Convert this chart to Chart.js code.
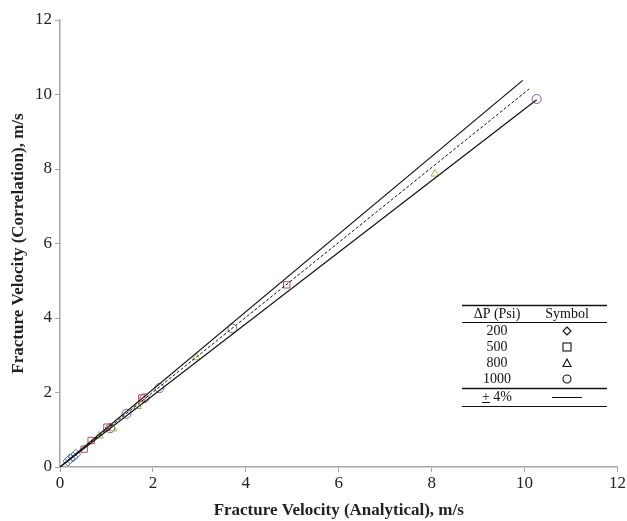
<!DOCTYPE html>
<html>
<head>
<meta charset="utf-8">
<script src="https://cdn.jsdelivr.net/npm/chart.js@4/dist/chart.umd.min.js"></script>
<style>
  body { margin: 0; background: #fff; }
  #wrap { width: 627px; height: 521px; position: relative; }
</style>
</head>
<body>
<div id="wrap"><canvas id="myChart" width="627" height="521"></canvas></div>
<script>
// measured fracture velocities, analytical (x) vs correlation (y), m/s
const dp200X = [0.17, 0.22, 0.28, 0.34];
const dp200Y = [0.16, 0.22, 0.27, 0.34];
const dp500X = [0.52, 0.67, 1.01, 1.76, 4.88];
const dp500Y = [0.48, 0.71, 1.07, 1.85, 4.89];
const dp800X = [0.85, 1.14, 1.67, 2.93, 8.07];
const dp800Y = [0.84, 1.03, 1.63, 2.94, 7.87];
const dp1000X = [1.08, 1.43, 1.82, 2.14, 3.71, 10.26];
const dp1000Y = [1.04, 1.43, 1.85, 2.12, 3.72, 9.88];

// reference lines: perfect fit and the +/-4% band
const fitX = [0, 10.1];
const fitY = [0, 10.15];
const upperX = [0, 9.96];
const upperY = [0, 10.38];
const lowerX = [0, 10.26];
const lowerY = [0, 9.86];

const axisTicks = [0, 2, 4, 6, 8, 10, 12];
const legendRows = ["200", "500", "800", "1000"];

function pts(xs, ys) {
  return xs.map((x, i) => ({ x: x, y: ys[i] }));
}

function markerSet(label, xs, ys, style, color) {
  return {
    type: "scatter",
    label: label,
    data: pts(xs, ys),
    pointStyle: style,
    pointRadius: style === "rectRot" ? 5 : 4.5,
    pointBorderColor: color,
    pointBackgroundColor: "rgba(0,0,0,0)",
    pointBorderWidth: 1,
    showLine: false,
  };
}

function lineSet(label, xs, ys, dash) {
  return {
    type: "line",
    label: label,
    data: pts(xs, ys),
    borderColor: "#111",
    borderWidth: dash ? 1 : 1.2,
    borderDash: dash ? [3, 2] : [],
    pointRadius: 0,
    fill: false,
  };
}

// little table in the lower right that explains the symbols
const tableLegend = {
  id: "tableLegend",
  afterDraw(chart) {
    const ctx = chart.ctx;
    const left = 462, right = 607;
    const c1 = 497, c2 = 567;
    ctx.save();
    ctx.strokeStyle = "#111";
    ctx.fillStyle = "#111";
    const hline = (y, w) => {
      ctx.lineWidth = w;
      ctx.beginPath();
      ctx.moveTo(left, y);
      ctx.lineTo(right, y);
      ctx.stroke();
    };
    hline(305.5, 1.4);
    hline(322.5, 1);
    hline(388.5, 1.4);
    hline(406.5, 1);

    ctx.font = "14px 'Liberation Serif', 'Times New Roman', serif";
    ctx.textAlign = "center";
    ctx.textBaseline = "middle";
    ctx.fillText("ΔP (Psi)", c1, 314);
    ctx.fillText("Symbol", c2, 314);

    const rowY = [331, 347, 363, 379];
    legendRows.forEach((t, i) => ctx.fillText(t, c1, rowY[i]));

    // symbols, drawn in black outline
    ctx.lineWidth = 1.1;
    let y = rowY[0];
    ctx.beginPath();
    ctx.moveTo(c2, y - 4); ctx.lineTo(c2 + 4, y); ctx.lineTo(c2, y + 4); ctx.lineTo(c2 - 4, y); ctx.closePath();
    ctx.stroke();
    y = rowY[1];
    ctx.strokeRect(c2 - 4, y - 4, 8, 8);
    y = rowY[2];
    ctx.beginPath();
    ctx.moveTo(c2, y - 4); ctx.lineTo(c2 + 4, y + 3.5); ctx.lineTo(c2 - 4, y + 3.5); ctx.closePath();
    ctx.stroke();
    y = rowY[3];
    ctx.beginPath();
    ctx.arc(c2, y, 4, 0, Math.PI * 2);
    ctx.stroke();

    // last row: +/- 4% with the solid line sample
    ctx.fillText("+ 4%", c1, 397);
    const pw = ctx.measureText("+").width;
    const tw = ctx.measureText("+ 4%").width;
    const ux = c1 - tw / 2;
    ctx.lineWidth = 1;
    ctx.beginPath();
    ctx.moveTo(ux, 402.5);
    ctx.lineTo(ux + pw, 402.5);
    ctx.stroke();
    ctx.beginPath();
    ctx.moveTo(c2 - 15, 397.5);
    ctx.lineTo(c2 + 15, 397.5);
    ctx.stroke();
    ctx.restore();
  },
};

const tickFont = { family: "'Liberation Serif', 'Times New Roman', serif", size: 17 };
const titleFont = { family: "'Liberation Serif', 'Times New Roman', serif", size: 17, weight: "bold" };

const ctx = document.getElementById("myChart").getContext("2d");
new Chart(ctx, {
  data: {
    datasets: [
      lineSet("upper", upperX, upperY, false),
      lineSet("lower", lowerX, lowerY, false),
      lineSet("fit", fitX, fitY, true),
      markerSet("200", dp200X, dp200Y, "rectRot", "#4a7ebb"),
      markerSet("500", dp500X, dp500Y, "rect", "#be4b48"),
      markerSet("800", dp800X, dp800Y, "triangle", "#98b954"),
      markerSet("1000", dp1000X, dp1000Y, "circle", "#7d60a0"),
    ],
  },
  options: {
    responsive: false,
    animation: false,
    layout: { padding: { left: 8, right: 7, top: 20, bottom: 0 } },
    plugins: { legend: { display: false }, tooltip: { enabled: false } },
    scales: {
      x: {
        type: "linear",
        min: 0,
        max: 12,
        afterBuildTicks: (s) => { s.ticks = axisTicks.map((v) => ({ value: v })); },
        afterFit: (s) => { s.height = 54; },
        grid: { display: true, drawOnChartArea: false, drawTicks: true, tickLength: 5, color: "#a6a6a6" },
        border: { color: "#a6a6a6", width: 1.5 },
        ticks: { color: "#222", font: tickFont, padding: 1, maxRotation: 0 },
        title: { display: true, text: "Fracture Velocity (Analytical), m/s", color: "#222", font: titleFont, padding: { top: 4, bottom: 0 } },
      },
      y: {
        type: "linear",
        min: 0,
        max: 12,
        afterBuildTicks: (s) => { s.ticks = axisTicks.map((v) => ({ value: v })); },
        afterFit: (s) => { s.width = 52; },
        grid: { display: true, drawOnChartArea: false, drawTicks: true, tickLength: 5, color: "#a6a6a6" },
        border: { color: "#a6a6a6", width: 1.5 },
        ticks: { color: "#222", font: tickFont, padding: 3 },
        title: { display: true, text: "Fracture Velocity (Correlation), m/s", color: "#222", font: titleFont, padding: { top: 0, bottom: 2 } },
      },
    },
  },
  plugins: [tableLegend],
});
</script>
</body>
</html>
